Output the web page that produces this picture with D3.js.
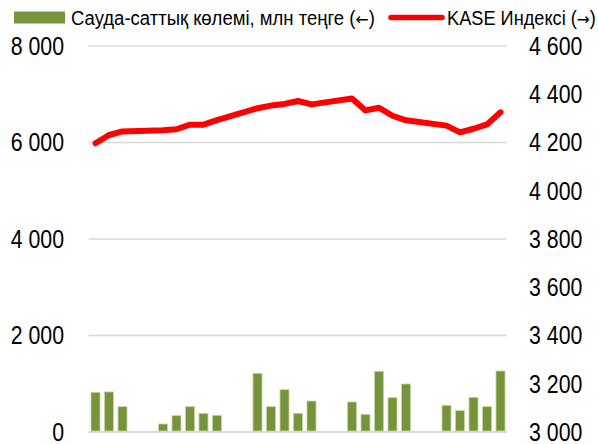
<!DOCTYPE html>
<html><head><meta charset="utf-8">
<script src="https://cdn.jsdelivr.net/npm/d3@7"></script>
<style>
html,body{margin:0;padding:0;background:#fff;}
svg{display:block;}
text{font-family:"Liberation Sans",Arial,sans-serif;fill:#000;}
</style></head><body>
<svg id="c" width="598" height="444"></svg>
<script>
// Days of month (categories)
const days = d3.range(1, 32);
// Trading volume, mln tenge (left axis); null = no trading (weekend)
const volume = [823, 830, 525, null, null, 166, 338, 525, 387, 346, null, null,
  1216, 525, 877, 387, 642, null, null, 622, 367, 1258, 711, 995, null, null,
  553, 442, 719, 525, 1264];
// KASE index (right axis)
const kase = [4197, 4231, 4246, null, null, 4251, 4255, 4274, 4274, 4293, null, null,
  4342, 4353, 4360, 4372, 4358, null, null, 4382, 4333, 4344, 4311, 4292, null, null,
  4270, 4242, 4257, 4275, 4325];
const leftTicks = [0, 2000, 4000, 6000, 8000];
const rightTicks = [3000, 3200, 3400, 3600, 3800, 4000, 4200, 4400, 4600];
const legendLabels = [["Сауда-саттық көлемі, млн теңге (", "←", ")"], ["KASE Индексі (", "→", ")"]];

const svg = d3.select("#c");
const fmt = v => d3.format(",")(v).replace(/,/g, "\u00a0");
const narrow = "scale(0.82,1)";

const x = d3.scaleBand().domain(days).range([88.75, 507.25]).paddingInner(0.333).paddingOuter(0.1665);
const yL = d3.scaleLinear().domain([0, 8000]).range([432, 46]);
const yR = d3.scaleLinear().domain([3000, 4600]).range([432, 46]);

// gridlines
svg.append("g").selectAll("line").data(leftTicks).join("line")
  .attr("x1", 88.5).attr("x2", 507)
  .attr("y1", d => yL(d)).attr("y2", d => yL(d))
  .attr("stroke", "#d9d9d9").attr("stroke-width", d => d === 0 ? 2 : 1.5);

// bars
const barData = days.map((d, i) => ({d, v: volume[i]})).filter(o => o.v != null);
svg.append("g").selectAll("rect").data(barData).join("rect")
  .attr("x", o => x(o.d)).attr("width", x.bandwidth())
  .attr("y", o => yL(o.v)).attr("height", o => yL(0) - yL(o.v) - 1)
  .attr("fill", "#77933c").attr("stroke", "#c4d79b").attr("stroke-width", 0.8);

// line
const lineData = days.map((d, i) => ({d, v: kase[i]})).filter(o => o.v != null);
svg.append("path").datum(lineData)
  .attr("d", d3.line().x(o => x(o.d) + x.bandwidth() / 2).y(o => yR(o.v)))
  .attr("fill", "none").attr("stroke", "#ff0000").attr("stroke-width", 6)
  .attr("stroke-linejoin", "round").attr("stroke-linecap", "round");

// left axis labels
const axL = d3.axisLeft(yL).tickValues(leftTicks).tickFormat(fmt).tickSize(0).tickPadding(0);
const gL = svg.append("g").attr("transform", "translate(64,0)").call(axL);
gL.select(".domain").remove();
gL.selectAll("text").attr("font-size", 26).attr("font-family", null).attr("fill", "#000")
  .attr("transform", narrow);

const axR = d3.axisRight(yR).tickValues(rightTicks).tickFormat(fmt).tickSize(0).tickPadding(0);
const gR = svg.append("g").attr("transform", "translate(529,0)").call(axR);
gR.select(".domain").remove();
gR.selectAll("text").attr("font-size", 26).attr("font-family", null).attr("fill", "#000")
  .attr("transform", narrow);

// legend
function legendText(parts, x0, width) {
  const g = svg.append("g").attr("transform", `translate(${x0},25)`);
  const t = g.append("text").attr("font-size", 20);
  t.append("tspan").text(parts[0]);
  t.append("tspan").attr("font-family", "DejaVu Sans").attr("font-size", 17).text(parts[1]);
  t.append("tspan").text(parts[2]);
  const w = t.node().getComputedTextLength();
  t.attr("transform", `scale(${width / w},1)`);
}
svg.append("rect").attr("x", 14).attr("y", 11.5).attr("width", 51).attr("height", 12).attr("fill", "#77933c");
legendText(legendLabels[0], 71, 304);
svg.append("line").attr("x1", 391).attr("x2", 442).attr("y1", 17.5).attr("y2", 17.5)
  .attr("stroke", "#ff0000").attr("stroke-width", 5.5).attr("stroke-linecap", "round");
legendText(legendLabels[1], 447, 149);
</script>
</body></html>
